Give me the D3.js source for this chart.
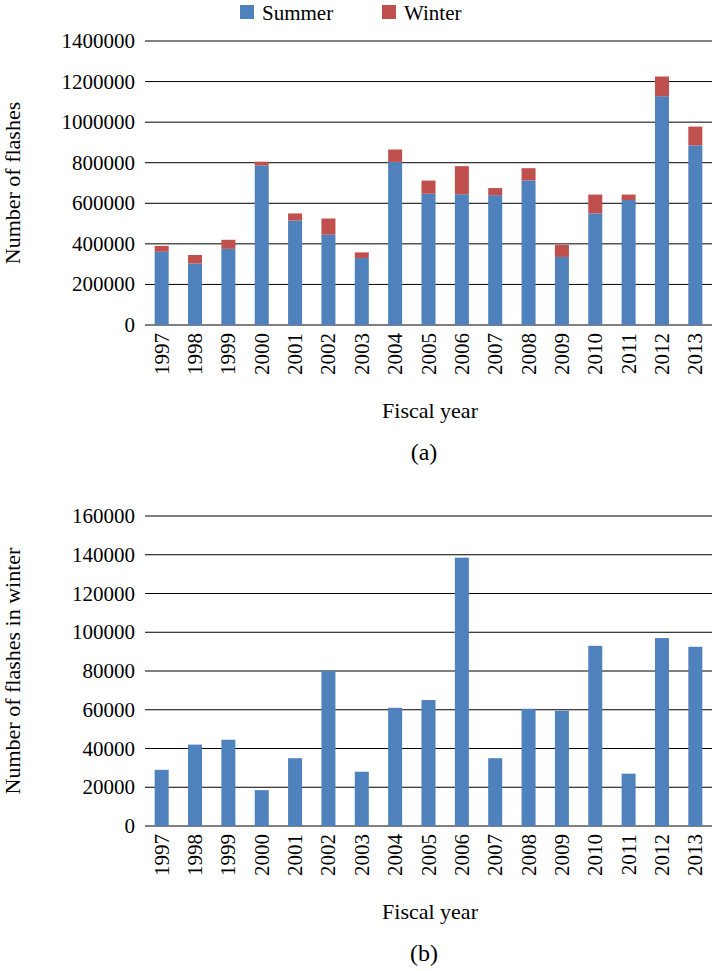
<!DOCTYPE html>
<html><head><meta charset="utf-8">
<script src="https://cdn.jsdelivr.net/npm/d3@7"></script>
<style>body{margin:0;background:#fff}</style>
</head><body><svg id="c" width="713" height="971" font-family="'Liberation Serif', 'Times New Roman', 'DejaVu Serif', serif"></svg>
<script>
const years = ["1997","1998","1999","2000","2001","2002","2003","2004","2005","2006","2007","2008","2009","2010","2011","2012","2013"];
const summer = [361000,303000,375500,786500,515000,445000,330000,804000,647000,644500,640000,712500,335500,550000,616000,1128000,885500];
const winter = [29000,42000,44500,18500,35000,80000,28000,61000,65000,138500,35000,60500,59500,93000,27000,97000,92500];
const ticksA = [0,200000,400000,600000,800000,1000000,1200000,1400000];
const ticksB = [0,20000,40000,60000,80000,100000,120000,140000,160000];

const svg = d3.select("#c");
const blue = "#4f81bd", red = "#c0504d";
const x = d3.scaleBand().domain(years).range([145, 712]).paddingInner(0.58).paddingOuter(0.29);

function panel(top, bottom, max, ticks, ylabel, caption, capY, stacks) {
  const y = d3.scaleLinear().domain([0, max]).range([bottom, top]);
  const g = svg.append("g");
  g.selectAll("line.grid").data(ticks).join("line")
    .attr("x1", 145).attr("x2", 712).attr("y1", d => y(d)).attr("y2", d => y(d))
    .attr("stroke", "#000").attr("stroke-width", 1);
  g.selectAll("text.yt").data(ticks).join("text")
    .attr("x", 135).attr("y", d => y(d) + 7).attr("text-anchor", "end")
    .style("font-size", "21px").text(d => d);
  stacks.forEach(s => {
    g.selectAll(null).data(years).join("rect")
      .attr("x", d => x(d)).attr("width", x.bandwidth())
      .attr("y", (d, i) => y(s.base[i] + s.vals[i]))
      .attr("height", (d, i) => y(s.base[i]) - y(s.base[i] + s.vals[i]))
      .attr("fill", s.color);
  });
  g.selectAll("text.xt").data(years).join("text")
    .attr("transform", d => `translate(${x(d) + x.bandwidth() / 2 + 7},${bottom + 8}) rotate(-90)`)
    .attr("text-anchor", "end").style("font-size", "21px").text(d => d);
  g.append("text").attr("transform", `translate(20,${(top + bottom) / 2}) rotate(-90)`)
    .attr("text-anchor", "middle").style("font-size", "22px").text(ylabel);
  g.append("text").attr("x", 430).attr("y", capY).attr("text-anchor", "middle")
    .style("font-size", "22px").text("Fiscal year");
  g.append("text").attr("x", 424).attr("y", capY + 42).attr("text-anchor", "middle")
    .style("font-size", "24px").text(caption);
}

const zeros = years.map(() => 0);
panel(41, 325, 1400000, ticksA, "Number of flashes", "(a)", 418,
  [{vals: summer, base: zeros, color: blue}, {vals: winter, base: summer, color: red}]);
panel(516, 826, 160000, ticksB, "Number of flashes in winter", "(b)", 919,
  [{vals: winter, base: zeros, color: blue}]);

// legend
const leg = [["Summer", blue, 240], ["Winter", red, 382]];
leg.forEach(([t, c, lx]) => {
  svg.append("rect").attr("x", lx).attr("y", 5).attr("width", 14).attr("height", 14).attr("fill", c);
  svg.append("text").attr("x", lx + 22).attr("y", 20).style("font-size", "21px").text(t);
});
</script></body></html>
